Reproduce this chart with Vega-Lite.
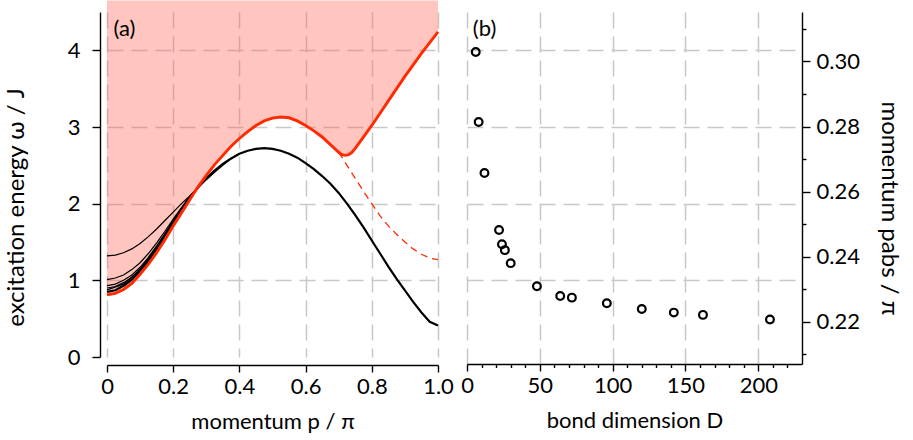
{
  "$schema": "https://vega.github.io/schema/vega-lite/v6.json",
  "padding": {"left": 4, "top": 0, "right": 5, "bottom": 5},
  "background": "white",
  "config": {
    "font": "Lato",
    "view": {"stroke": null},
    "axis": {
      "labelFontSize": 22, "titleFontSize": 22, "labelColor": "#000", "titleColor": "#000",
      "titleFontWeight": "normal", "domainColor": "#000", "tickColor": "#000",
      "domainWidth": 1.4, "tickWidth": 1.4, "gridColor": "#c8c8c8", "gridWidth": 1.5,
      "gridDash": [16, 8], "labelFlush": false, "labelOverlap": false, "labelBound": false
    }
  },
  "datasets": {
    "curves": [
      {"s": "edge", "p": 0, "w": 0.81}, {"s": "edge", "p": 0.025, "w": 0.83}, {"s": "edge", "p": 0.05, "w": 0.88},
      {"s": "edge", "p": 0.075, "w": 0.96}, {"s": "edge", "p": 0.1, "w": 1.08}, {"s": "edge", "p": 0.125, "w": 1.21},
      {"s": "edge", "p": 0.15, "w": 1.36}, {"s": "edge", "p": 0.175, "w": 1.53}, {"s": "edge", "p": 0.2, "w": 1.71},
      {"s": "edge", "p": 0.225, "w": 1.88}, {"s": "edge", "p": 0.25, "w": 2.05}, {"s": "edge", "p": 0.275, "w": 2.22},
      {"s": "edge", "p": 0.3, "w": 2.37}, {"s": "edge", "p": 0.325, "w": 2.51}, {"s": "edge", "p": 0.35, "w": 2.63},
      {"s": "edge", "p": 0.375, "w": 2.75}, {"s": "edge", "p": 0.4, "w": 2.85}, {"s": "edge", "p": 0.425, "w": 2.94},
      {"s": "edge", "p": 0.45, "w": 3.02}, {"s": "edge", "p": 0.475, "w": 3.08}, {"s": "edge", "p": 0.5, "w": 3.115},
      {"s": "edge", "p": 0.525, "w": 3.13}, {"s": "edge", "p": 0.55, "w": 3.12}, {"s": "edge", "p": 0.575, "w": 3.08},
      {"s": "edge", "p": 0.6, "w": 3.02}, {"s": "edge", "p": 0.625, "w": 2.95}, {"s": "edge", "p": 0.65, "w": 2.87},
      {"s": "edge", "p": 0.675, "w": 2.77}, {"s": "edge", "p": 0.7, "w": 2.67}, {"s": "edge", "p": 0.71, "w": 2.64},
      {"s": "edge", "p": 0.72, "w": 2.63}, {"s": "edge", "p": 0.73, "w": 2.64}, {"s": "edge", "p": 0.74, "w": 2.67},
      {"s": "edge", "p": 0.75, "w": 2.72}, {"s": "edge", "p": 0.775, "w": 2.87}, {"s": "edge", "p": 0.8, "w": 3.02},
      {"s": "edge", "p": 0.825, "w": 3.18}, {"s": "edge", "p": 0.85, "w": 3.34}, {"s": "edge", "p": 0.875, "w": 3.5},
      {"s": "edge", "p": 0.9, "w": 3.66}, {"s": "edge", "p": 0.925, "w": 3.81}, {"s": "edge", "p": 0.95, "w": 3.96},
      {"s": "edge", "p": 0.975, "w": 4.1}, {"s": "edge", "p": 1.0, "w": 4.24},

      {"s": "dash", "p": 0.7, "w": 2.67}, {"s": "dash", "p": 0.725, "w": 2.5}, {"s": "dash", "p": 0.75, "w": 2.33},
      {"s": "dash", "p": 0.775, "w": 2.16}, {"s": "dash", "p": 0.8, "w": 2.0}, {"s": "dash", "p": 0.825, "w": 1.84},
      {"s": "dash", "p": 0.85, "w": 1.71}, {"s": "dash", "p": 0.875, "w": 1.6}, {"s": "dash", "p": 0.9, "w": 1.5},
      {"s": "dash", "p": 0.925, "w": 1.41}, {"s": "dash", "p": 0.95, "w": 1.34}, {"s": "dash", "p": 0.975, "w": 1.29},
      {"s": "dash", "p": 1.0, "w": 1.27},

      {"s": "main", "p": 0, "w": 0.85}, {"s": "main", "p": 0.025, "w": 0.87}, {"s": "main", "p": 0.05, "w": 0.93},
      {"s": "main", "p": 0.075, "w": 1.01}, {"s": "main", "p": 0.1, "w": 1.12}, {"s": "main", "p": 0.125, "w": 1.25},
      {"s": "main", "p": 0.15, "w": 1.41}, {"s": "main", "p": 0.175, "w": 1.58}, {"s": "main", "p": 0.2, "w": 1.76},
      {"s": "main", "p": 0.225, "w": 1.93}, {"s": "main", "p": 0.25, "w": 2.08}, {"s": "main", "p": 0.275, "w": 2.21},
      {"s": "main", "p": 0.3, "w": 2.33}, {"s": "main", "p": 0.325, "w": 2.43}, {"s": "main", "p": 0.35, "w": 2.52},
      {"s": "main", "p": 0.375, "w": 2.59}, {"s": "main", "p": 0.4, "w": 2.65}, {"s": "main", "p": 0.425, "w": 2.69},
      {"s": "main", "p": 0.45, "w": 2.715}, {"s": "main", "p": 0.475, "w": 2.725}, {"s": "main", "p": 0.5, "w": 2.715},
      {"s": "main", "p": 0.525, "w": 2.69}, {"s": "main", "p": 0.55, "w": 2.65}, {"s": "main", "p": 0.575, "w": 2.6},
      {"s": "main", "p": 0.6, "w": 2.53}, {"s": "main", "p": 0.625, "w": 2.45}, {"s": "main", "p": 0.65, "w": 2.36},
      {"s": "main", "p": 0.675, "w": 2.26}, {"s": "main", "p": 0.7, "w": 2.14}, {"s": "main", "p": 0.725, "w": 2.0},
      {"s": "main", "p": 0.75, "w": 1.85}, {"s": "main", "p": 0.775, "w": 1.69}, {"s": "main", "p": 0.8, "w": 1.52},
      {"s": "main", "p": 0.825, "w": 1.35}, {"s": "main", "p": 0.85, "w": 1.18}, {"s": "main", "p": 0.875, "w": 1.02},
      {"s": "main", "p": 0.9, "w": 0.87}, {"s": "main", "p": 0.925, "w": 0.72}, {"s": "main", "p": 0.95, "w": 0.58},
      {"s": "main", "p": 0.975, "w": 0.46}, {"s": "main", "p": 1.0, "w": 0.41},

      {"s": "t1", "p": 0, "w": 1.32}, {"s": "t1", "p": 0.025, "w": 1.33}, {"s": "t1", "p": 0.05, "w": 1.36},
      {"s": "t1", "p": 0.075, "w": 1.41}, {"s": "t1", "p": 0.1, "w": 1.48}, {"s": "t1", "p": 0.125, "w": 1.57},
      {"s": "t1", "p": 0.15, "w": 1.67}, {"s": "t1", "p": 0.175, "w": 1.78}, {"s": "t1", "p": 0.2, "w": 1.89},
      {"s": "t1", "p": 0.225, "w": 2.0}, {"s": "t1", "p": 0.25, "w": 2.1}, {"s": "t1", "p": 0.275, "w": 2.21},
      {"s": "t1", "p": 0.3, "w": 2.31}, {"s": "t1", "p": 0.325, "w": 2.41}, {"s": "t1", "p": 0.35, "w": 2.5},
      {"s": "t1", "p": 0.375, "w": 2.585}, {"s": "t1", "p": 0.4, "w": 2.65},

      {"s": "t2", "p": 0, "w": 1.01}, {"s": "t2", "p": 0.025, "w": 1.03}, {"s": "t2", "p": 0.05, "w": 1.07},
      {"s": "t2", "p": 0.075, "w": 1.14}, {"s": "t2", "p": 0.1, "w": 1.23}, {"s": "t2", "p": 0.125, "w": 1.35},
      {"s": "t2", "p": 0.15, "w": 1.49}, {"s": "t2", "p": 0.175, "w": 1.64}, {"s": "t2", "p": 0.2, "w": 1.8},
      {"s": "t2", "p": 0.225, "w": 1.95}, {"s": "t2", "p": 0.25, "w": 2.09}, {"s": "t2", "p": 0.275, "w": 2.21},
      {"s": "t2", "p": 0.3, "w": 2.33},

      {"s": "t3", "p": 0, "w": 0.93}, {"s": "t3", "p": 0.025, "w": 0.95}, {"s": "t3", "p": 0.05, "w": 1.0},
      {"s": "t3", "p": 0.075, "w": 1.07}, {"s": "t3", "p": 0.1, "w": 1.17}, {"s": "t3", "p": 0.125, "w": 1.3},
      {"s": "t3", "p": 0.15, "w": 1.45}, {"s": "t3", "p": 0.175, "w": 1.61}, {"s": "t3", "p": 0.2, "w": 1.78},
      {"s": "t3", "p": 0.225, "w": 1.94}, {"s": "t3", "p": 0.25, "w": 2.085},

      {"s": "t4", "p": 0, "w": 0.9}, {"s": "t4", "p": 0.025, "w": 0.92}, {"s": "t4", "p": 0.05, "w": 0.97},
      {"s": "t4", "p": 0.075, "w": 1.04}, {"s": "t4", "p": 0.1, "w": 1.15}, {"s": "t4", "p": 0.125, "w": 1.28},
      {"s": "t4", "p": 0.15, "w": 1.43}, {"s": "t4", "p": 0.175, "w": 1.6}, {"s": "t4", "p": 0.2, "w": 1.77},
      {"s": "t4", "p": 0.225, "w": 1.935}, {"s": "t4", "p": 0.25, "w": 2.08},

      {"s": "t5", "p": 0, "w": 0.875}, {"s": "t5", "p": 0.05, "w": 0.95}, {"s": "t5", "p": 0.1, "w": 1.135},
      {"s": "t5", "p": 0.15, "w": 1.42}, {"s": "t5", "p": 0.2, "w": 1.765}, {"s": "t5", "p": 0.25, "w": 2.08}
    ],
    "pts": [
      {"D": 6, "pabs": 0.3029}, {"D": 8, "pabs": 0.2814}, {"D": 12, "pabs": 0.2657},
      {"D": 22, "pabs": 0.2482}, {"D": 24, "pabs": 0.2438}, {"D": 26, "pabs": 0.242},
      {"D": 30, "pabs": 0.238}, {"D": 48, "pabs": 0.2309}, {"D": 64, "pabs": 0.2279},
      {"D": 72, "pabs": 0.2274}, {"D": 96, "pabs": 0.2257}, {"D": 120, "pabs": 0.2239},
      {"D": 142, "pabs": 0.2228}, {"D": 162, "pabs": 0.2221}, {"D": 208, "pabs": 0.2207}
    ]
  },
  "spacing": 29,
  "bounds": "flush",
  "hconcat": [
    {
      "width": 331, "height": 345,
      "layer": [
        {"data": {"name": "curves"},
          "transform": [{"filter": "datum.s==='edge'"}],
          "mark": {"type": "area", "color": "#ff6450", "opacity": 0.374, "clip": false},
          "encoding": {
            "x": {"field": "p", "type": "quantitative",
              "scale": {"domain": [0, 1], "nice": false},
              "axis": {"title": "momentum p / π", "offset": 8, "values": [0, 0.1, 0.2, 0.3, 0.4, 0.5, 0.6, 0.7, 0.8, 0.9, 1.0],
                "labelExpr": "datum.value===0 ? '0' : (round(datum.value*10)%2===0 ? format(datum.value,'.1f') : '')",
                "tickSize": {"condition": {"test": "round(datum.value*10)%2===0", "value": 7}, "value": 3.5},
                "gridOpacity": {"condition": {"test": "round(datum.value*10)%2===0", "value": 1}, "value": 0},
                "labelPadding": 4, "titlePadding": 14}},
            "y": {"field": "w", "type": "quantitative",
              "scale": {"domain": [0, 4.5], "nice": false},
              "axis": {"title": "excitation energy ω / J", "titleFontSize": 24, "titleY": 195, "offset": 7,
                "values": [0, 0.5, 1, 1.5, 2, 2.5, 3, 3.5, 4, 4.5],
                "labelExpr": "datum.value%1===0 ? format(datum.value,'d') : ''",
                "tickSize": {"condition": {"test": "datum.value%1===0", "value": 8}, "value": 4},
                "gridOpacity": {"condition": {"test": "datum.value>=1 && datum.value<=4 && datum.value%1===0", "value": 1}, "value": 0},
                "labelPadding": 12, "titlePadding": 39}},
            "y2": {"datum": 4.65}}},
        {"data": {"name": "curves"},
          "transform": [{"filter": "datum.s[0]==='t'"}],
          "mark": {"type": "line", "color": "#000", "strokeWidth": 1.2},
          "encoding": {"x": {"field": "p", "type": "quantitative"}, "y": {"field": "w", "type": "quantitative"}, "detail": {"field": "s"}}},
        {"data": {"name": "curves"},
          "transform": [{"filter": "datum.s==='main'"}],
          "mark": {"type": "line", "color": "#000", "strokeWidth": 2.2},
          "encoding": {"x": {"field": "p", "type": "quantitative"}, "y": {"field": "w", "type": "quantitative"}}},
        {"data": {"name": "curves"},
          "transform": [{"filter": "datum.s==='dash'"}],
          "mark": {"type": "line", "color": "#ff2a00", "strokeWidth": 1.3, "strokeDash": [7, 5]},
          "encoding": {"x": {"field": "p", "type": "quantitative"}, "y": {"field": "w", "type": "quantitative"}}},
        {"data": {"name": "curves"},
          "transform": [{"filter": "datum.s==='edge'"}],
          "mark": {"type": "line", "color": "#ff2a00", "strokeWidth": 2.9},
          "encoding": {"x": {"field": "p", "type": "quantitative"}, "y": {"field": "w", "type": "quantitative"}}},
        {"data": {"values": [{"lab": "(a)"}]},
          "mark": {"type": "text", "align": "left", "baseline": "middle", "fontSize": 22, "font": "Lato"},
          "encoding": {
            "x": {"datum": 0.02, "type": "quantitative",
              "axis": {"title": "momentum p / π", "offset": 8, "values": [0, 0.1, 0.2, 0.3, 0.4, 0.5, 0.6, 0.7, 0.8, 0.9, 1.0],
                "labelExpr": "datum.value===0 ? '0' : (round(datum.value*10)%2===0 ? format(datum.value,'.1f') : '')",
                "tickSize": {"condition": {"test": "round(datum.value*10)%2===0", "value": 7}, "value": 3.5},
                "gridOpacity": {"condition": {"test": "round(datum.value*10)%2===0", "value": 1}, "value": 0},
                "labelPadding": 4, "titlePadding": 14}},
            "y": {"datum": 4.28, "type": "quantitative",
              "axis": {"title": "excitation energy ω / J", "titleFontSize": 24, "titleY": 195, "offset": 7,
                "values": [0, 0.5, 1, 1.5, 2, 2.5, 3, 3.5, 4, 4.5],
                "labelExpr": "datum.value%1===0 ? format(datum.value,'d') : ''",
                "tickSize": {"condition": {"test": "datum.value%1===0", "value": 8}, "value": 4},
                "gridOpacity": {"condition": {"test": "datum.value>=1 && datum.value<=4 && datum.value%1===0", "value": 1}, "value": 0},
                "labelPadding": 12, "titlePadding": 39}},
            "text": {"field": "lab"}}}
      ]
    },
    {
      "width": 335, "height": 352,
      "resolve": {"scale": {"y": "independent"}, "axis": {"y": "independent"}},
      "layer": [
        {
          "layer": [
            {"data": {"name": "pts"},
              "mark": {"type": "point", "shape": "circle", "filled": false, "color": "#000", "opacity": 1, "strokeWidth": 2.2, "size": 60},
              "encoding": {
                "x": {"field": "D", "type": "quantitative",
                  "scale": {"domain": [0, 230], "nice": false},
                  "axis": {"title": "bond dimension D", "values": [0, 10, 20, 30, 40, 50, 60, 70, 80, 90, 100, 110, 120, 130, 140, 150, 160, 170, 180, 190, 200, 210, 220],
                    "labelExpr": "datum.value%50===0 ? format(datum.value,'d') : ''",
                    "tickSize": {"condition": {"test": "datum.value%50===0", "value": 7}, "value": 3.5},
                    "gridOpacity": {"condition": {"test": "datum.value%50===0 && datum.value<=200", "value": 1}, "value": 0},
                    "labelPadding": 4, "titlePadding": 14}},
                "y": {"field": "pabs", "type": "quantitative",
                  "scale": {"domain": [0.207, 0.3152], "nice": false},
                  "axis": {"orient": "right", "title": "momentum pabs / π", "titleFontSize": 24, "titleY": 196, "grid": false,
                    "values": [0.21, 0.22, 0.23, 0.24, 0.25, 0.26, 0.27, 0.28, 0.29, 0.3, 0.31],
                    "labelExpr": "round(datum.value*100)%2===0 ? format(datum.value,'.2f') : ''",
                    "tickSize": {"condition": {"test": "round(datum.value*100)%2===0", "value": 8}, "value": 4},
                    "labelPadding": 6, "titlePadding": 17}}
              }},
            {"data": {"values": [{"lab": "(b)"}]},
              "mark": {"type": "text", "align": "left", "baseline": "middle", "fontSize": 22, "font": "Lato"},
              "encoding": {
                "x": {"datum": 4, "type": "quantitative",
                  "axis": {"title": "bond dimension D", "values": [0, 10, 20, 30, 40, 50, 60, 70, 80, 90, 100, 110, 120, 130, 140, 150, 160, 170, 180, 190, 200, 210, 220],
                    "labelExpr": "datum.value%50===0 ? format(datum.value,'d') : ''",
                    "tickSize": {"condition": {"test": "datum.value%50===0", "value": 7}, "value": 3.5},
                    "gridOpacity": {"condition": {"test": "datum.value%50===0 && datum.value<=200", "value": 1}, "value": 0},
                    "labelPadding": 4, "titlePadding": 14}},
                "y": {"datum": 0.3100, "type": "quantitative",
                  "axis": {"orient": "right", "title": "momentum pabs / π", "titleFontSize": 24, "titleY": 196, "grid": false,
                    "values": [0.21, 0.22, 0.23, 0.24, 0.25, 0.26, 0.27, 0.28, 0.29, 0.3, 0.31],
                    "labelExpr": "round(datum.value*100)%2===0 ? format(datum.value,'.2f') : ''",
                    "tickSize": {"condition": {"test": "round(datum.value*100)%2===0", "value": 8}, "value": 4},
                    "labelPadding": 6, "titlePadding": 17}},
                "text": {"field": "lab"}}}
          ]
        },
        {"data": {"values": [{"g": 1}]},
          "mark": {"type": "rule", "opacity": 0},
          "encoding": {"y": {"datum": 1, "scale": {"domain": [-0.091, 4.5], "nice": false},
            "axis": {"orient": "left", "values": [1, 2, 3, 4], "labels": false, "ticks": false, "domain": false, "title": null, "grid": true}}}}
      ]
    }
  ]
}
